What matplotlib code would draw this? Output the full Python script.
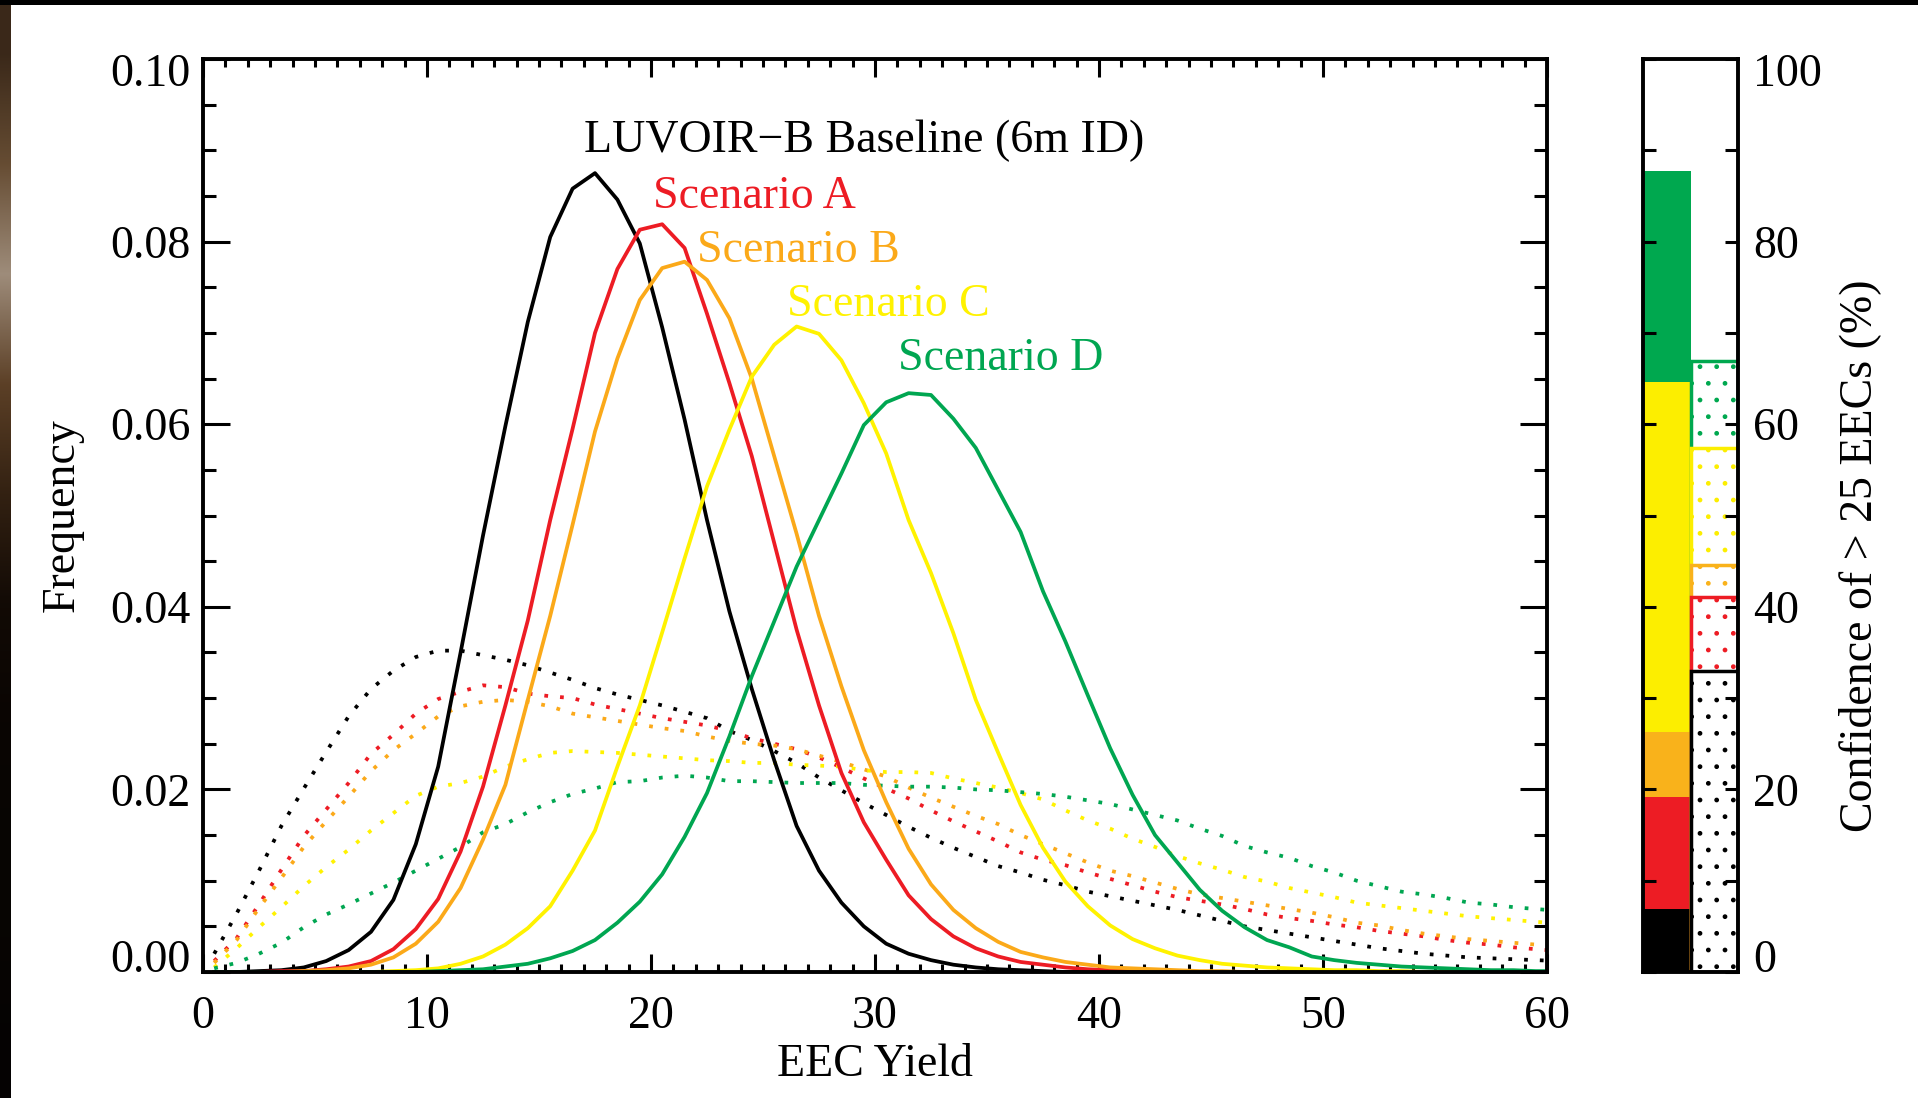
import numpy as np
import matplotlib
matplotlib.use("Agg")
import matplotlib.pyplot as plt
from matplotlib.ticker import MultipleLocator, FormatStrFormatter
from matplotlib.transforms import ScaledTranslation

plt.rcParams['font.family'] = ['Liberation Serif', 'DejaVu Serif']

# ==============================
# DATA
# ==============================
eec_yield = np.arange(0.5, 61, 1.0)   # bin centres 0.5 ... 60.5

# solid curves (frequency of EEC yield)
baseline_solid = [0.0000, 0.0000, 0.0001, 0.0002, 0.0005, 0.0012, 0.0024, 0.0044, 0.0079, 0.0140,
                  0.0225, 0.0350, 0.0478, 0.0598, 0.0712, 0.0805, 0.0858, 0.0875, 0.0846, 0.0798,
                  0.0706, 0.0605, 0.0495, 0.0395, 0.0310, 0.0232, 0.0160, 0.0111, 0.0076, 0.0050,
                  0.0031, 0.0020, 0.0013, 0.0008, 0.0005, 0.0003, 0.0002, 0.0001, 0.0, 0.0,
                  0.0, 0.0, 0.0, 0.0, 0.0, 0.0, 0.0, 0.0, 0.0, 0.0,
                  0.0, 0.0, 0.0, 0.0, 0.0, 0.0, 0.0, 0.0, 0.0, 0.0, 0.0]
scen_a_solid = [0.0, 0.0, 0.0, 0.0001, 0.0001, 0.0003, 0.0006, 0.0012, 0.0025, 0.0047,
                0.0080, 0.0132, 0.0203, 0.0292, 0.0385, 0.0495, 0.0595, 0.0700, 0.0770, 0.0813,
                0.0819, 0.0793, 0.0721, 0.0645, 0.0565, 0.0470, 0.0375, 0.0292, 0.0218, 0.0164,
                0.0123, 0.0084, 0.0058, 0.0039, 0.0026, 0.0017, 0.0011, 0.0008, 0.0005, 0.0003,
                0.0002, 0.0001, 0.0001, 0.0, 0.0, 0.0, 0.0, 0.0, 0.0, 0.0,
                0.0, 0.0, 0.0, 0.0, 0.0, 0.0, 0.0, 0.0, 0.0, 0.0, 0.0]
scen_b_solid = [0.0, 0.0, 0.0, 0.0, 0.0001, 0.0002, 0.0004, 0.0008, 0.0016, 0.0031,
                0.0055, 0.0092, 0.0145, 0.0205, 0.0298, 0.0390, 0.0490, 0.0592, 0.0672, 0.0736,
                0.0771, 0.0778, 0.0758, 0.0716, 0.0650, 0.0565, 0.0480, 0.0390, 0.0313, 0.0243,
                0.0186, 0.0135, 0.0096, 0.0068, 0.0048, 0.0033, 0.0022, 0.0016, 0.0011, 0.0008,
                0.0005, 0.0004, 0.0003, 0.0002, 0.0001, 0.0001, 0.0, 0.0, 0.0, 0.0,
                0.0, 0.0, 0.0, 0.0, 0.0, 0.0, 0.0, 0.0, 0.0, 0.0, 0.0]
scen_c_solid = [0.0, 0.0, 0.0, 0.0, 0.0, 0.0, 0.0, 0.0, 0.0001, 0.0002,
                0.0004, 0.0009, 0.0017, 0.0030, 0.0048, 0.0072, 0.0111, 0.0155, 0.0225, 0.0292,
                0.0372, 0.0453, 0.0532, 0.0594, 0.0652, 0.0687, 0.0707, 0.0699, 0.0670, 0.0623,
                0.0568, 0.0495, 0.0437, 0.0371, 0.0298, 0.0240, 0.0183, 0.0136, 0.0099, 0.0072,
                0.0051, 0.0036, 0.0026, 0.0018, 0.0013, 0.0009, 0.0007, 0.0005, 0.0004, 0.0003,
                0.0002, 0.0002, 0.0001, 0.0001, 0.0, 0.0, 0.0, 0.0, 0.0, 0.0, 0.0]
scen_d_solid = [0.0, 0.0, 0.0, 0.0, 0.0, 0.0, 0.0, 0.0, 0.0, 0.0,
                0.0001, 0.0002, 0.0003, 0.0006, 0.0009, 0.0015, 0.0023, 0.0035, 0.0054, 0.0077,
                0.0107, 0.0148, 0.0196, 0.0258, 0.0324, 0.0384, 0.0444, 0.0495, 0.0546, 0.0599,
                0.0624, 0.0634, 0.0632, 0.0606, 0.0574, 0.0528, 0.0482, 0.0417, 0.0362, 0.0303,
                0.0245, 0.0194, 0.0150, 0.0120, 0.0090, 0.0067, 0.0049, 0.0035, 0.0027, 0.0017,
                0.0013, 0.0010, 0.0008, 0.0006, 0.0005, 0.0004, 0.0003, 0.0002, 0.0002, 0.0001, 0.0001]

# dotted curves
baseline_dot = [0.0020, 0.0064, 0.0111, 0.0160, 0.0201, 0.0241, 0.0280, 0.0310, 0.0330, 0.0345,
                0.0352, 0.0352, 0.0347, 0.0342, 0.0336, 0.0328, 0.0320, 0.0311, 0.0304, 0.0298,
                0.0292, 0.0285, 0.0278, 0.0264, 0.0254, 0.0242, 0.0229, 0.0213, 0.0199, 0.0185,
                0.0172, 0.0159, 0.0147, 0.0136, 0.0126, 0.0116, 0.0109, 0.0101, 0.0095, 0.0088,
                0.0083, 0.0078, 0.0073, 0.0068, 0.0062, 0.0056, 0.0050, 0.0046, 0.0042, 0.0038,
                0.0034, 0.0030, 0.0026, 0.0023, 0.0020, 0.0018, 0.0016, 0.0015, 0.0014, 0.0013, 0.0012]
scen_a_dot = [0.0012, 0.0037, 0.0074, 0.0112, 0.0149, 0.0178, 0.0207, 0.0239, 0.0260, 0.0283,
              0.0299, 0.0307, 0.0314, 0.0312, 0.0305, 0.0302, 0.0300, 0.0293, 0.0288, 0.0283,
              0.0278, 0.0274, 0.0270, 0.0264, 0.0256, 0.0250, 0.0244, 0.0235, 0.0224, 0.0212,
              0.0201, 0.0190, 0.0177, 0.0165, 0.0154, 0.0143, 0.0131, 0.0123, 0.0117, 0.0109,
              0.0102, 0.0095, 0.0088, 0.0082, 0.0078, 0.0074, 0.0069, 0.0063, 0.0059, 0.0056,
              0.0052, 0.0049, 0.0045, 0.0042, 0.0039, 0.0035, 0.0032, 0.0030, 0.0027, 0.0025, 0.0023]
scen_b_dot = [0.0010, 0.0035, 0.0070, 0.0103, 0.0137, 0.0165, 0.0192, 0.0220, 0.0243, 0.0261,
              0.0280, 0.0291, 0.0296, 0.0298, 0.0296, 0.0291, 0.0283, 0.0279, 0.0275, 0.0271,
              0.0267, 0.0264, 0.0258, 0.0253, 0.0250, 0.0248, 0.0244, 0.0237, 0.0230, 0.0222,
              0.0214, 0.0202, 0.0191, 0.0181, 0.0171, 0.0162, 0.0150, 0.0140, 0.0130, 0.0120,
              0.0111, 0.0105, 0.0098, 0.0091, 0.0085, 0.0081, 0.0077, 0.0073, 0.0069, 0.0065,
              0.0060, 0.0054, 0.0051, 0.0046, 0.0042, 0.0039, 0.0036, 0.0034, 0.0032, 0.0030, 0.0028]
scen_c_dot = [0.0005, 0.0026, 0.0049, 0.0071, 0.0094, 0.0115, 0.0134, 0.0155, 0.0174, 0.0193,
              0.0203, 0.0207, 0.0214, 0.0225, 0.0233, 0.0240, 0.0242, 0.0241, 0.0240, 0.0238,
              0.0236, 0.0234, 0.0232, 0.0231, 0.0229, 0.0229, 0.0227, 0.0226, 0.0225, 0.0221,
              0.0219, 0.0219, 0.0218, 0.0212, 0.0207, 0.0202, 0.0196, 0.0189, 0.0177, 0.0166,
              0.0157, 0.0146, 0.0137, 0.0127, 0.0119, 0.0112, 0.0104, 0.0099, 0.0092, 0.0087,
              0.0082, 0.0076, 0.0073, 0.0070, 0.0067, 0.0064, 0.0061, 0.0059, 0.0057, 0.0055, 0.0053]
scen_d_dot = [0.0004, 0.0010, 0.0020, 0.0032, 0.0049, 0.0063, 0.0074, 0.0086, 0.0098, 0.0111,
              0.0124, 0.0137, 0.0153, 0.0162, 0.0175, 0.0186, 0.0195, 0.0201, 0.0208, 0.0209,
              0.0213, 0.0215, 0.0213, 0.0209, 0.0209, 0.0208, 0.0207, 0.0207, 0.0207, 0.0205,
              0.0204, 0.0203, 0.0203, 0.0202, 0.0200, 0.0199, 0.0197, 0.0195, 0.0192, 0.0188,
              0.0184, 0.0178, 0.0172, 0.0166, 0.0157, 0.0149, 0.0138, 0.0131, 0.0125, 0.0116,
              0.0109, 0.0100, 0.0094, 0.0088, 0.0085, 0.0081, 0.0076, 0.0074, 0.0071, 0.0069, 0.0067]

# confidence of > 25 EECs (%), solid bar and dotted bar
names = ["LUVOIR\u2212B Baseline (6m ID)", "Scenario A", "Scenario B", "Scenario C", "Scenario D"]
colors = ["#000000", "#ED1C24", "#FBA919", "#FFF200", "#00A651"]
bar_colors = ["#000000", "#ED1C24", "#F9B21B", "#FCEE00", "#00A84F"]
conf_solid = [6.9, 19.2, 26.3, 64.6, 87.7]
conf_dot = [33.0, 41.1, 44.6, 57.4, 66.9]

solid_curves = [baseline_solid, scen_a_solid, scen_b_solid, scen_c_solid, scen_d_solid]
dot_curves = [baseline_dot, scen_a_dot, scen_b_dot, scen_c_dot, scen_d_dot]

# label positions (data coords, left edge / baseline)
label_x = [17.03, 20.07, 22.07, 26.08, 31.04]
label_y = [0.0898, 0.0837, 0.0778, 0.0719, 0.0659]

# ==============================
# FIGURE
# ==============================
W, H = 1918, 1098
fig = plt.figure(figsize=(W / 100, H / 100), dpi=100)
fig.patch.set_facecolor("white")

# dark screenshot border (top and left)
bax = fig.add_axes([0, 0, 11 / W, 1])
strip = np.array([[0.23, 0.16, 0.10], [0.40, 0.30, 0.20], [0.62, 0.55, 0.48],
                  [0.36, 0.25, 0.15], [0.20, 0.13, 0.07], [0.07, 0.04, 0.02],
                  [0.04, 0.02, 0.01], [0.03, 0.02, 0.01], [0.03, 0.02, 0.01],
                  [0.02, 0.01, 0.01]])
bax.imshow(strip[:, None, :], aspect="auto", interpolation="bilinear")
bax.axis("off")
tax = fig.add_axes([0, 1 - 5 / H, 1, 5 / H])
tax.set_facecolor("black")
tax.set_xticks([]); tax.set_yticks([])
for s in tax.spines.values():
    s.set_visible(False)

# ---------- main panel ----------
ax = fig.add_axes([203 / W, 1 - 972 / H, 1344 / W, 913 / H])

for ys, c in zip(dot_curves, colors):
    ax.plot(eec_yield, ys, color=c, lw=2.7, linestyle=(0, (1, 3.2)))
for ys, c in zip(solid_curves, colors):
    ax.plot(eec_yield, ys, color=c, lw=2.7)

for n, c, lx, ly in zip(names, colors, label_x, label_y):
    ax.text(lx, ly, n, color=c, fontsize=33, ha="left", va="baseline")

ax.set_xlim(0, 60)
ax.set_ylim(0, 0.10)
ax.xaxis.set_major_locator(MultipleLocator(10))
ax.xaxis.set_minor_locator(MultipleLocator(1))
ax.yaxis.set_major_locator(MultipleLocator(0.02))
ax.yaxis.set_minor_locator(MultipleLocator(0.005))
ax.yaxis.set_major_formatter(FormatStrFormatter("%.2f"))

ax.tick_params(which="both", direction="in", top=True, right=True, width=2.2, labelsize=33)
ax.tick_params(axis="x", which="major", length=13, pad=17)
ax.tick_params(axis="x", which="minor", length=6)
ax.tick_params(axis="y", which="major", length=19.5, pad=9)
ax.tick_params(axis="y", which="minor", length=9.5)
for s in ax.spines.values():
    s.set_linewidth(2.8)

ax.set_xlabel("EEC Yield", fontsize=33)
ax.xaxis.set_label_coords(0.5, -0.0785)
ax.set_ylabel("Frequency", fontsize=33)
ax.yaxis.set_label_coords(-0.089, 0.5)

# ---------- confidence bar panel ----------
axb = fig.add_axes([1643 / W, 1 - 972 / H, 95 / W, 913 / H])
order = np.argsort(conf_solid)[::-1]
for i in order:
    axb.bar(0, conf_solid[i], width=0.5, align="edge", color=bar_colors[i], lw=0)
order = np.argsort(conf_dot)[::-1]
for i in order:
    axb.bar(0.5, conf_dot[i], width=0.5, align="edge", facecolor="white",
            edgecolor=bar_colors[i], hatch=".", lw=2.5)

axb.set_xlim(0, 1)
axb.set_ylim(0, 100)
axb.set_xticks([])
axb.yaxis.set_major_locator(MultipleLocator(20))
axb.yaxis.set_minor_locator(MultipleLocator(10))
axb.tick_params(which="both", direction="in", left=True, right=True, width=2.2,
                length=9.4, labelleft=False, labelright=True, labelsize=33, pad=11)
for s in axb.spines.values():
    s.set_linewidth(2.8)
    s.set_zorder(5)
axb.yaxis.set_label_position("right")
axb.set_ylabel("Confidence of > 25 EECs (%)", fontsize=33)
axb.yaxis.set_label_coords(2.05, 0.456)

# end labels kept inside the axis range, as in the original
fig.canvas.draw()
nudge_up = ScaledTranslation(0, 5 / 100, fig.dpi_scale_trans)
for t in ax.yaxis.get_major_ticks():
    if abs(t.get_loc() - 0.0) < 1e-9:
        t.label1.set_va("baseline")
    elif abs(t.get_loc() - 0.10) < 1e-9:
        t.label1.set_va("top")
        t.label1.set_transform(t.label1.get_transform() + nudge_up)
for t in axb.yaxis.get_major_ticks():
    if abs(t.get_loc() - 0.0) < 1e-9:
        t.label2.set_va("baseline")
    elif abs(t.get_loc() - 100.0) < 1e-9:
        t.label2.set_va("top")
        t.label2.set_transform(t.label2.get_transform() + nudge_up)

fig.savefig("out.png", dpi=100)
